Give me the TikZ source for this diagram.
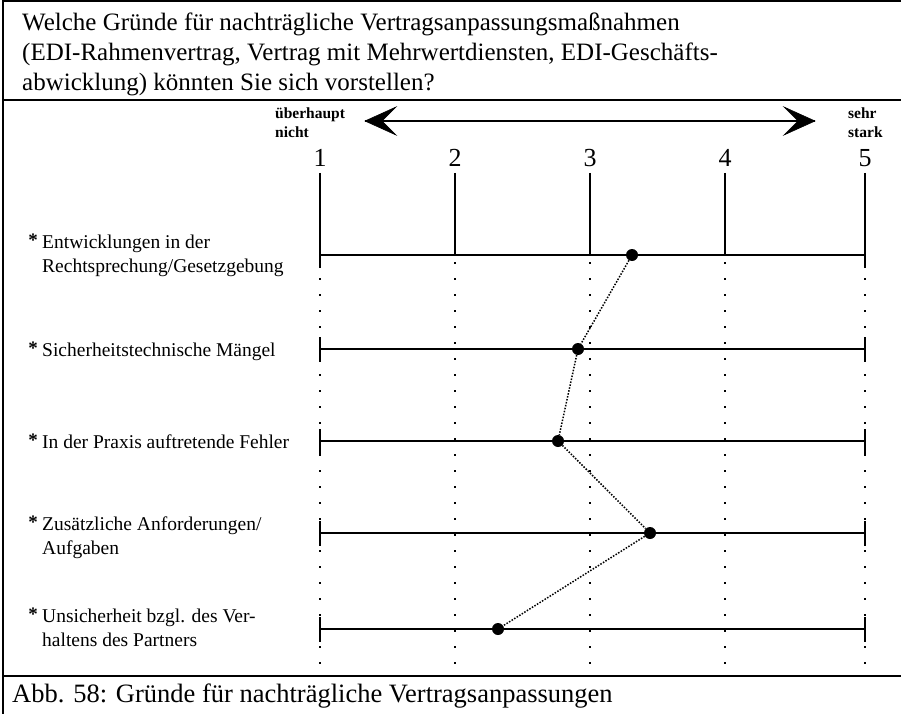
\documentclass[tikz,border=0pt]{standalone}
\usepackage{fontspec}
\setmainfont{Liberation Serif}
\usetikzlibrary{arrows.meta}
\begin{document}
\begin{tikzpicture}[x=1pt,y=-1pt,
  frameline/.style={line width=2pt},
  scaleline/.style={line width=2.6pt},
  tickline/.style={line width=2.2pt},
  gridline/.style={line width=1.6pt,dash pattern=on 1.6pt off 14.4pt},
  trend/.style={line width=1.5pt,dash pattern=on 1.5pt off 1.5pt},
  meanpt/.style={circle,fill=black,inner sep=0pt,minimum size=12pt},
  title/.style={anchor=base west,font=\fontsize{25}{30}\selectfont,inner sep=0pt},
  item/.style={anchor=base west,font=\fontsize{19.5}{24}\selectfont,inner sep=0pt},
  bullet/.style={anchor=base,font=\fontsize{19}{19}\selectfont\bfseries,inner sep=0pt},
  endlabel/.style={anchor=base west,font=\fontsize{15.5}{19}\selectfont\bfseries,inner sep=0pt},
  scalenum/.style={anchor=base,font=\fontsize{26}{26}\selectfont,inner sep=0pt},
  tiphead/.style={fill=black,line width=0.6pt,draw=black,line join=miter}
]
\useasboundingbox (0,0) rectangle (901,714);

% frame
\draw[frameline] (901,1.5) -- (3,1.5) -- (3,714);
\draw[frameline] (3,100) -- (901,100);
\draw[frameline] (3,676) -- (901,676);

% question
\node[title] (q1) at (22,31) {Welche Gründe für nachträgliche Vertragsanpassungsmaßnahmen};
\node[title] (q2) at (22,61) {(EDI-Rahmenvertrag, Vertrag mit Mehrwertdiensten, EDI-Geschäfts-};
\node[title] (q3) at (22,91) {abwicklung) könnten Sie sich vorstellen?};

% scale direction
\node[endlabel] (lo1) at (275,119) {überhaupt};
\node[endlabel] (lo2) at (275,138) {nicht};
\node[endlabel] (hi1) at (848,119) {sehr};
\node[endlabel] (hi2) at (848,138) {stark};
\coordinate (al) at (365,121);
\coordinate (ar) at (815,121);
\draw[line width=2pt] (al) -- (ar);
\fill[tiphead] (al) -- ++(31,-14) -- ++(-14,14) -- ++(14,14) -- cycle;
\fill[tiphead] (ar) -- ++(-31,-14) -- ++(14,14) -- ++(-14,14) -- cycle;

% scale numbers and ticks
\foreach \i/\x in {1/320,2/455,3/590,4/725,5/865}{
  \node[scalenum] (n\i) at (\x,167) {\i};
  \draw[tickline] (\x,173) -- (\x,255);
  \draw[gridline] (\x,262) -- (\x,668);
}

% rating rows
\foreach \r/\y in {1/255,2/349,3/441,4/533,5/629}{
  \draw[scaleline] (320,\y) -- (865,\y);
  \draw[tickline] (320,\y-12) -- (320,\y+13);
  \draw[tickline] (865,\y-12) -- (865,\y+13);
}

% items
\foreach \y in {248,356,448,530,622}{
  \node[bullet] at (33,\y-2) {*};
}
\node[item] (i1a) at (42,248) {Entwicklungen in der};
\node[item] (i1b) at (42,272) {Rechtsprechung/Gesetzgebung};
\node[item] (i2) at (42,356) {Sicherheitstechnische Mängel};
\node[item] (i3) at (42,448) {In der Praxis auftretende Fehler};
\node[item] (i4a) at (42,530) {Zusätzliche Anforderungen/};
\node[item] (i4b) at (42,554) {Aufgaben};
\node[item] (i5a) at (42,622) {Unsicherheit bzgl. des Ver-};
\node[item] (i5b) at (42,646) {haltens des Partners};

% mean values
\node[meanpt] (d1) at (632,255) {};
\node[meanpt] (d2) at (578,349) {};
\node[meanpt] (d3) at (558,441) {};
\node[meanpt] (d4) at (650,533) {};
\node[meanpt] (d5) at (498,629) {};
\draw[trend] (d1) -- (d2) -- (d3) -- (d4) -- (d5);

% caption
\node[anchor=base west,font=\fontsize{26.5}{26.5}\selectfont,inner sep=0pt] (cap) at (12,702) {Abb. 58: Gründe für nachträgliche Vertragsanpassungen};
\end{tikzpicture}
\end{document}
